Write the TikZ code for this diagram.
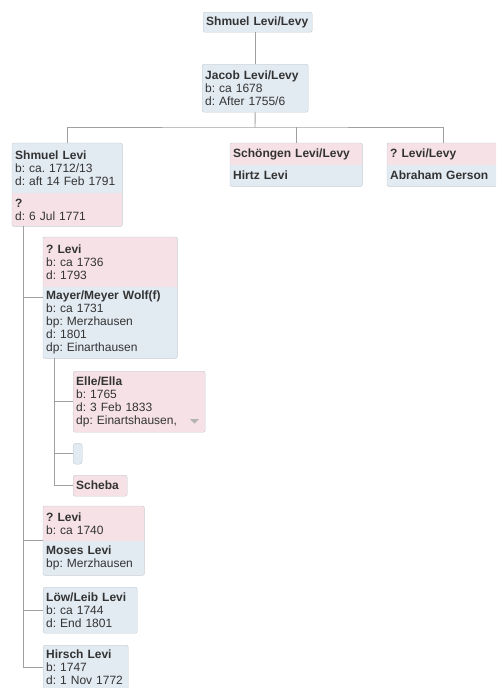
\documentclass[tikz,border=0pt]{standalone}
\usepackage{fontspec}
\setmainfont{Liberation Sans}
\usetikzlibrary{fit}
\definecolor{husband}{HTML}{E2EAF2}
\definecolor{wife}{HTML}{F6E2E6}
\definecolor{boxline}{HTML}{C4CAD1}
\definecolor{treeline}{HTML}{A0A0A0}
\definecolor{cardtext}{HTML}{333333}

\begin{document}
\begin{tikzpicture}[x = 1pt, y = -1pt]
\tikzstyle{CardStyle}=[anchor = north west,
                       inner xsep = 3pt,
                       inner ysep = 0pt,
                       align = left,
                       text = cardtext,
                       font = \fontsize{12}{13}\selectfont\frenchspacing]
\tikzstyle{Male}=[CardStyle, fill = husband]
\tikzstyle{Female}=[CardStyle, fill = wife]
\tikzstyle{Single}=[draw = boxline, rounded corners = 2pt]
\tikzstyle{Frame}=[draw = boxline, rounded corners = 2pt, inner sep = 0pt]
\tikzstyle{Link}=[draw = treeline, line width = 0.9pt]
\useasboundingbox (0,0) rectangle (496,688);
\fill[white] (0,0) rectangle (496,688);
\clip (0,0) rectangle (496,688);
\node[Male, Single, text width = 103pt, minimum height = 20pt] (top) at (203,12) {\textbf{Shmuel Levi/Levy}};
\node[Male, Single, text width = 100pt, minimum height = 48pt] (jacob) at (202,64) {\textbf{Jacob Levi/Levy}\\b: ca 1678\\d: After 1755/6};
\node[Male, text width = 104pt, minimum height = 50pt] (shmuel) at (12,143) {\textbf{Shmuel Levi}\\b: ca. 1712/13\\d: aft 14 Feb 1791};
\node[Female, text width = 104pt, minimum height = 33pt] (shmuelw) at (12,193) {\textbf{?}\\d: 6 Jul 1771};
\node[Frame, fit = (shmuel)(shmuelw)] (shmuelc) {};
\node[Female, text width = 126pt, minimum height = 22pt] (schoengen) at (230,143) {\textbf{Schöngen Levi/Levy}};
\node[Male, text width = 126pt, minimum height = 21pt] (hirtz) at (230,165) {\textbf{Hirtz Levi}};
\node[Frame, fit = (schoengen)(hirtz)] (schoengenc) {};
\node[Female, text width = 106pt, minimum height = 22pt] (levi) at (387,143) {\textbf{? Levi/Levy}};
\node[Male, text width = 106pt, minimum height = 21pt] (abraham) at (387,165) {\textbf{Abraham Gerson}};
\node[Frame, fit = (levi)(abraham)] (levic) {};
\node[Female, text width = 128pt, minimum height = 50pt] (mayerw) at (43,237) {\textbf{? Levi}\\b: ca 1736\\d: 1793};
\node[Male, text width = 128pt, minimum height = 71pt] (mayer) at (43,287) {\textbf{Mayer/Meyer Wolf(f)}\\b: ca 1731\\bp: Merzhausen\\d: 1801\\dp: Einarthausen};
\node[Frame, fit = (mayerw)(mayer)] (mayerc) {};
\node[Female, Single, text width = 126pt, minimum height = 61pt] (elle) at (73,371) {\textbf{Elle/Ella}\\b: 1765\\d: 3 Feb 1833\\dp: Einartshausen,};
\fill[treeline!80] (190,419) -- (199,419) -- (194.5,423.5) -- cycle;
\node[Male, Single, rounded corners = 3pt, inner xsep = 0pt, minimum width = 9pt, minimum height = 21pt] (blank) at (73,443) {};
\node[Female, Single, text width = 48pt, minimum height = 21pt] (scheba) at (73,475) {\textbf{Scheba}};
\node[Female, text width = 95pt, minimum height = 35pt] (mosesw) at (43,506) {\textbf{? Levi}\\b: ca 1740};
\node[Male, text width = 95pt, minimum height = 34pt] (moses) at (43,541) {\textbf{Moses Levi}\\bp: Merzhausen};
\node[Frame, fit = (mosesw)(moses)] (mosesc) {};
\node[Male, Single, text width = 88pt, minimum height = 46pt] (loew) at (43,587) {\textbf{Löw/Leib Levi}\\b: ca 1744\\d: End 1801};
\node[Male, Single, text width = 79pt, minimum height = 44pt] (hirsch) at (43,645) {\textbf{Hirsch Levi}\\b: 1747\\d: 1 Nov 1772};
\coordinate (bar) at (255,127);
\coordinate (trunk) at (23,226);
\coordinate (mtrunk) at (54,358);
\draw[Link] (jacob.north) -- (jacob.north |- top.south);
\draw[Link] (jacob.south) -- (bar);
\draw[Link] (shmuelc.north) |- (bar) -| (levic.north);
\draw[Link] (schoengenc.north) -- (schoengenc.north |- bar);
\draw[Link] (trunk) |- (hirsch.west);
\draw[Link] (trunk |- mayerc.west) -- (mayerc.west);
\draw[Link] (trunk |- mosesc.west) -- (mosesc.west);
\draw[Link] (trunk |- loew.west) -- (loew.west);
\draw[Link] (mtrunk) |- (scheba.west);
\draw[Link] (mtrunk |- elle.west) -- (elle.west);
\draw[Link] (mtrunk |- blank.west) -- (blank.west);
\end{tikzpicture}
\end{document}
